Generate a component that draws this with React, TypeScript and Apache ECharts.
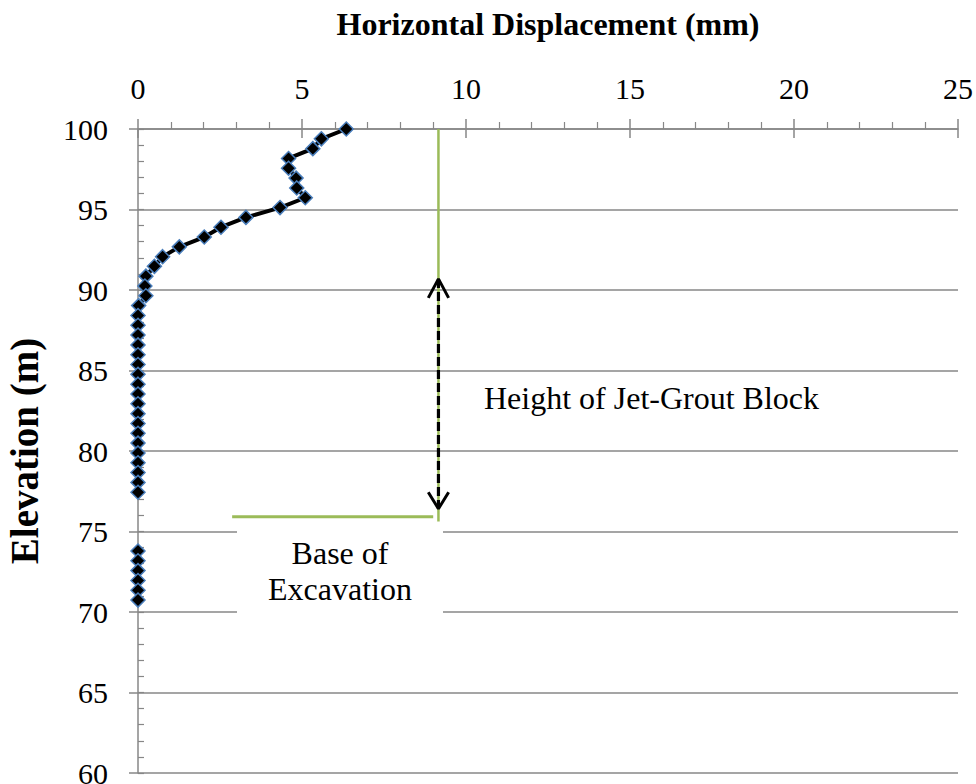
import React, { useEffect, useRef } from "react";
import * as echarts from "echarts";

// Inclinometer readings (elevation in m, horizontal displacement in mm); null = no reading
const elevations: (number | null)[] = [
  100, 99.39, 98.78, 98.17, 97.56, 96.95, 96.34, 95.73, 95.12, 94.51,
  93.9, 93.29, 92.68, 92.07, 91.47, 90.86, 90.25, 89.64, 89.03, 88.42,
  87.81, 87.2, 86.59, 85.98, 85.37, 84.76, 84.15, 83.54, 82.93, 82.32,
  81.71, 81.1, 80.49, 79.88, 79.27, 78.66, 78.05, 77.44, null,
  73.79, 73.18, 72.57, 71.96, 71.35, 70.74,
];
const displacements: (number | null)[] = [
  6.35, 5.59, 5.33, 4.59, 4.59, 4.82, 4.84, 5.1, 4.33, 3.29,
  2.53, 2.02, 1.26, 0.75, 0.5, 0.24, 0.21, 0.24, 0.02, 0,
  0, 0, 0, 0, 0, 0, 0, 0, 0, 0,
  0, 0, 0, 0, 0, 0, 0, 0, null,
  0, 0, 0, 0, 0, 0,
];

// Axis ranges / ticks
const xTickLabels = ["0", "5", "10", "15", "20", "25"];
const yTickLabels = ["60", "65", "70", "75", "80", "85", "90", "95", "100"];

// Annotation geometry in data units (x: mm, y: m)
const jetGroutLineX = [9.16, 9.16];
const jetGroutLineY = [100, 75.62];
const excavationLineX = [2.87, 9.0];
const excavationLineY = [75.91, 75.91];
const arrowX = [9.16, 9.16];
const arrowY = [90.69, 76.41];
const arrowTopX = [8.85, 9.16, 9.47];
const arrowTopY = [89.51, 90.69, 89.51];
const arrowBottomX = [8.85, 9.16, 9.47];
const arrowBottomY = [77.44, 76.41, 77.44];

const xAxisTitle = "Horizontal Displacement (mm)";
const yAxisTitle = "Elevation (m)";
const jetGroutLabel = "Height of Jet-Grout Block";
const excavationLabel = "Base of\nExcavation";

const FONT = "Liberation Serif";
const GRAY = "#878787";

const pairs = (xs: (number | null)[], ys: (number | null)[]) =>
  xs.map((x, i) => (x == null || ys[i] == null ? ["-", "-"] : [x, ys[i]]));

export default function App() {
  const ref = useRef<HTMLDivElement>(null);
  useEffect(() => {
    document.body.style.margin = "0";
    if (!ref.current) return;
    const chart = echarts.init(ref.current, null, { renderer: "svg" });
    const xMin = Number(xTickLabels[0]);
    const xMax = Number(xTickLabels[xTickLabels.length - 1]);
    const yMin = Number(yTickLabels[0]);
    const yMax = Number(yTickLabels[yTickLabels.length - 1]);
    const option: any = {
      animation: false,
      backgroundColor: "#ffffff",
      textStyle: { fontFamily: FONT },
      grid: {
        left: 138,
        top: 129,
        right: 18,
        bottom: 11,
        containLabel: false,
        outerBoundsMode: "none",
      },
      xAxis: [
        {
          type: "value",
          position: "top",
          min: xMin,
          max: xMax,
          interval: 5,
          name: xAxisTitle,
          nameLocation: "middle",
          nameGap: 89,
          nameTextStyle: {
            fontFamily: FONT,
            fontWeight: "bold",
            fontSize: 32,
            color: "#000",
          },
          axisLine: { show: true, lineStyle: { color: GRAY, width: 1.5 } },
          axisTick: { show: true, length: 10, lineStyle: { color: GRAY, width: 1.5 } },
          minorTick: { show: true, splitNumber: 5, length: 7, lineStyle: { color: GRAY, width: 1.2 } },
          axisLabel: {
            margin: 26,
            fontFamily: FONT,
            fontSize: 30,
            color: "#000",
          },
          splitLine: { show: false },
        },
        {
          type: "value",
          position: "top",
          min: xMin,
          max: xMax,
          interval: 5,
          axisLine: { show: false },
          axisTick: { show: true, inside: true, length: 9, lineStyle: { color: GRAY, width: 1.5 } },
          axisLabel: { show: false },
          splitLine: { show: false },
        },
      ],
      yAxis: [
        {
          type: "value",
          position: "left",
          min: yMin,
          max: yMax,
          interval: 5,
          name: yAxisTitle,
          nameLocation: "middle",
          nameGap: 94,
          nameRotate: 90,
          nameTextStyle: {
            fontFamily: FONT,
            fontWeight: "bold",
            fontSize: 39,
            color: "#000",
          },
          axisLine: { show: true, lineStyle: { color: GRAY, width: 1.5 } },
          axisTick: { show: true, length: 9, lineStyle: { color: GRAY, width: 1.5 } },
          axisLabel: {
            margin: 30,
            fontFamily: FONT,
            fontSize: 30,
            color: "#000",
          },
          splitLine: { show: true, lineStyle: { color: GRAY, width: 1.5 } },
        },
        {
          type: "value",
          position: "left",
          min: yMin,
          max: yMax,
          interval: 1,
          axisLine: { show: false },
          axisTick: { show: true, inside: true, length: 6, lineStyle: { color: GRAY, width: 1.2 } },
          axisLabel: { show: false },
          splitLine: { show: false },
        },
      ],
      series: [
        {
          type: "line",
          name: "jet-grout extent",
          data: pairs(jetGroutLineX, jetGroutLineY),
          symbol: "none",
          lineStyle: { color: "#9BBB59", width: 2.5 },
          z: 2,
        },
        {
          type: "line",
          name: "base of excavation",
          data: pairs(excavationLineX, excavationLineY),
          symbol: "none",
          lineStyle: { color: "#9BBB59", width: 3 },
          z: 2,
        },
        {
          type: "line",
          name: "arrow",
          data: pairs(arrowX, arrowY),
          symbol: "none",
          lineStyle: { color: "#000", width: 3.2, type: [9, 4] },
          z: 3,
        },
        {
          type: "line",
          name: "arrow top",
          data: pairs(arrowTopX, arrowTopY),
          symbol: "none",
          lineStyle: { color: "#000", width: 3 },
          z: 3,
        },
        {
          type: "line",
          name: "arrow bottom",
          data: pairs(arrowBottomX, arrowBottomY),
          symbol: "none",
          lineStyle: { color: "#000", width: 3 },
          z: 3,
        },
        {
          type: "line",
          name: "Displacement",
          data: pairs(displacements, elevations),
          connectNulls: false,
          symbol: "diamond",
          symbolSize: 14,
          itemStyle: { color: "#000", borderColor: "#4A7EBB", borderWidth: 1.5 },
          lineStyle: { color: "#000", width: 4 },
          z: 4,
        },
      ],
      graphic: [
        {
          type: "rect",
          z: 10,
          shape: { x: 237, y: 524, width: 206, height: 96 },
          style: { fill: "#ffffff" },
        },
        {
          type: "text",
          z: 11,
          x: 340,
          y: 571,
          style: {
            text: excavationLabel,
            font: `32px ${FONT}`,
            fill: "#000",
            align: "center",
            verticalAlign: "middle",
            lineHeight: 36,
          },
        },
        {
          type: "text",
          z: 11,
          x: 484,
          y: 398,
          style: {
            text: jetGroutLabel,
            font: `32px ${FONT}`,
            fill: "#000",
            align: "left",
            verticalAlign: "middle",
          },
        },
      ],
    };
    chart.setOption(option);
    return () => chart.dispose();
  }, []);
  return <div ref={ref} style={{ width: 976, height: 784 }} />;
}
